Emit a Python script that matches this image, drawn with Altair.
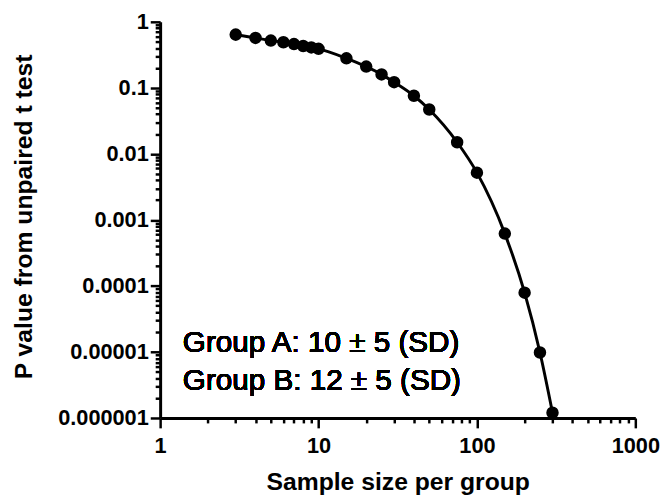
import altair as alt
import pandas as pd

# Sample size per group and resulting P value
sample_size = [3, 4, 5, 6, 7, 8, 9, 10, 15, 20, 25, 30, 40, 50, 75, 100, 150, 200, 250, 300]
p_value = [0.64, 0.57, 0.52, 0.49, 0.46, 0.43, 0.41, 0.39, 0.28, 0.21, 0.16, 0.122,
           0.076, 0.047, 0.015, 0.0052, 0.00062, 0.000079, 0.0000098, 0.0000012]

x_major = [1, 10, 100, 1000]
y_major = [1, 0.1, 0.01, 0.001, 0.0001, 0.00001, 0.000001]
annotation = ["Group A: 10 \u00b1 5 (SD)", "Group B: 12 \u00b1 5 (SD)"]

x_ticks = [m * 10 ** k for k in range(0, 3) for m in range(1, 10)] + [1000]
y_ticks = [m * 10.0 ** k for k in range(-6, 0) for m in range(1, 10)] + [1]

df = pd.DataFrame({"n": sample_size, "p": p_value})

is_major = "abs(log(datum.value)/LN10 - round(log(datum.value)/LN10)) < 0.001"
label_expr = f"({is_major}) ? format(datum.value, '.6~f') : ''"

FONT = "Liberation Sans"
PLOT_H = 401

x_axis = alt.Axis(
    values=x_ticks,
    labelExpr=label_expr,
    tickSize={"condition": {"test": is_major, "value": 10}, "value": 5},
    title="Sample size per group",
    titleX=240.5,
    titleY=72,
    titleBaseline="alphabetic",
    labelPadding=8,
    grid=False,
)
y_axis = alt.Axis(
    values=y_ticks,
    labelExpr=label_expr,
    tickSize={"condition": {"test": is_major, "value": 10}, "value": 5},
    title="P value from unpaired t test",
    titleX=-130,
    titleY=197,
    titleBaseline="alphabetic",
    labelPadding=2,
    grid=False,
)

x_enc = alt.X("n:Q", scale=alt.Scale(type="log", domain=[1, 1000], nice=False), axis=x_axis)
y_enc = alt.Y("p:Q", scale=alt.Scale(type="log", domain=[0.000001, 1], nice=False), axis=y_axis)

line = alt.Chart(df).mark_line(color="black", strokeWidth=3, interpolate="monotone").encode(x=x_enc, y=y_enc)
points = alt.Chart(df).mark_point(filled=True, shape="circle", size=160, color="black", opacity=1).encode(x=x_enc, y=y_enc)

text = alt.Chart(df).mark_text(
    align="left", baseline="alphabetic", font=FONT, fontSize=30, lineHeight=39, color="black"
).encode(
    x=alt.value(23),
    y=alt.value(334),
    text=alt.value(annotation),
)

chart = alt.layer(line, points, text).properties(
    width=481,
    height=PLOT_H,
    autosize=alt.AutoSizeParams(type="none"),
    padding={"left": 154, "top": 11, "right": 27, "bottom": 78},
).configure_view(stroke=None).configure_axis(
    domainColor="black",
    domainWidth=3,
    tickColor="black",
    tickWidth=2.5,
    labelFont=FONT,
    labelFontWeight="bold",
    labelFontSize=22,
    labelColor="black",
    titleFont=FONT,
    titleFontWeight="bold",
    titleFontSize=25,
    titleColor="black",
    labelFlush=False,
    labelOverlap=False,
)

chart.save("out.html", embed_options={"renderer": "svg", "actions": False})
